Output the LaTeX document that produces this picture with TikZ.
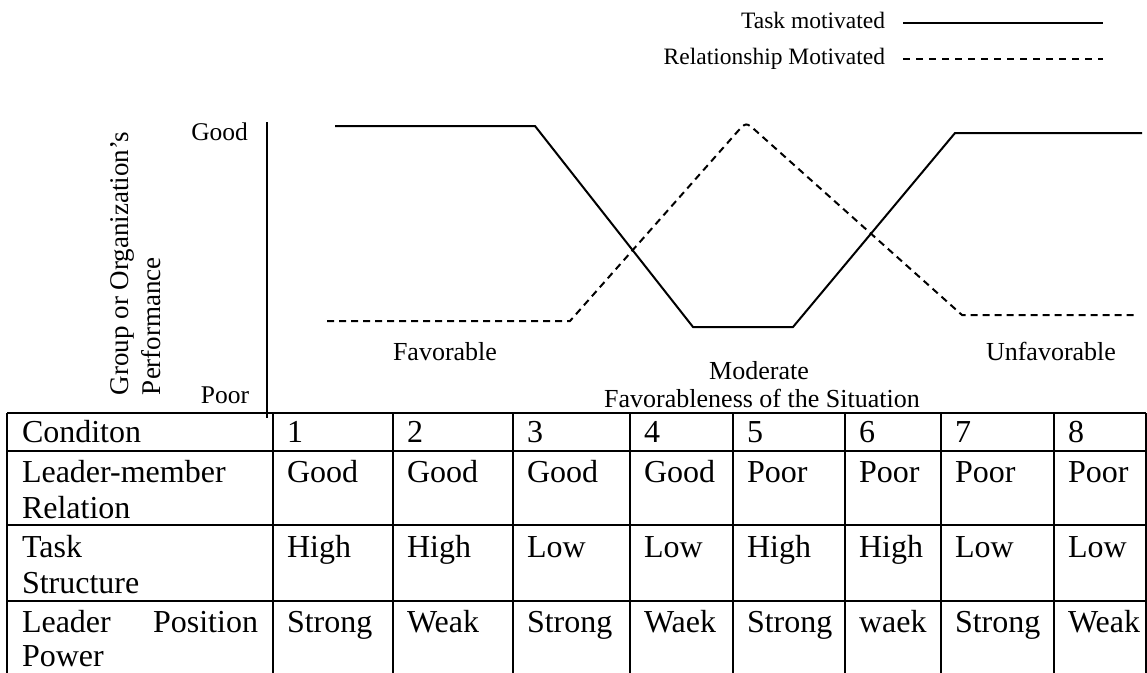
\documentclass[tikz,border=0pt]{standalone}
\usepackage{fontspec}
\setmainfont{Liberation Serif}
\begin{document}
\begin{tikzpicture}[x=1pt,y=-1pt,
  txt/.style={inner sep=0pt, outer sep=0pt},
  cell/.style={txt, anchor=base west, font=\fontsize{32}{36}\selectfont},
  glab/.style={txt, anchor=base, font=\fontsize{26}{30}\selectfont},
  leg/.style={txt, anchor=base east, font=\fontsize{23.5}{28}\selectfont},
  solidline/.style={line width=2pt},
  dashline/.style={line width=2pt, dash pattern=on 7pt off 5pt},
  legdash/.style={line width=2pt, dash pattern=on 7pt off 6pt},
  gridline/.style={line width=2.2pt}]
\useasboundingbox (0,0) rectangle (1147,672);

% legend
\node[leg] (lt) at (885,28) {Task motivated};
\node[leg] (lr) at (885,64) {Relationship Motivated};
\coordinate (lt1) at (903,23); \coordinate (lt2) at (1103,23);
\coordinate (lr1) at (903,59); \coordinate (lr2) at (1103,59);
\draw[solidline] (lt1) -- (lt2);
\draw[legdash] (lr1) -- (lr2);

% axis
\coordinate (ax1) at (267,122); \coordinate (ax2) at (267,418);
\draw[line width=2pt] (ax1) -- (ax2);
\node[txt, anchor=base east, font=\fontsize{25.5}{30}\selectfont] (good) at (248,140) {Good};
\node[txt, anchor=base east, font=\fontsize{25.5}{30}\selectfont] (poor) at (249,403) {Poor};
\node[txt, anchor=base west, rotate=90, font=\fontsize{27}{31}\selectfont] (yl1) at (128,395) {Group or Organization’s};
\node[txt, anchor=base west, rotate=90, font=\fontsize{27}{31}\selectfont] (yl2) at (160,395) {Performance};

% task motivated curve
\coordinate (s1) at (335,126); \coordinate (s2) at (535,126);
\coordinate (s3) at (693,327); \coordinate (s4) at (793,327);
\coordinate (s5) at (955,133); \coordinate (s6) at (1142,133);
\draw[solidline] (s1) -- (s2) -- (s3) -- (s4) -- (s5) -- (s6);

% relationship motivated curve
\coordinate (r1) at (327,321); \coordinate (r2) at (570,321);
\coordinate (r3a) at (736.7,132.5); \coordinate (r3) at (746,122); \coordinate (r3b) at (756.4,131.3);
\coordinate (r4) at (962,315); \coordinate (r5) at (1137,315);
\draw[dashline] (r1) -- (r2) -- (r3a) .. controls (r3) .. (r3b) -- (r4) -- (r5);

% graph labels
\node[glab] (fav) at (445,360) {Favorable};
\node[glab] (mod) at (759,379) {Moderate};
\node[glab] (fos) at (762,407) {Favorableness of the Situation};
\node[glab] (unf) at (1051,360) {Unfavorable};

% table grid
\foreach \x in {7,273,393,513,630,733,845,941,1054,1146}
  \draw[gridline] (\x,413) -- (\x,673);
\foreach \y in {413,451,525,601}
  \draw[gridline] (7,\y) -- (1146,\y);

% first column
\node[cell] (h1) at (22,442) {Conditon};
\node[cell] (h2a) at (22,482) {Leader-member};
\node[cell] (h2b) at (22,518) {Relation};
\node[cell] (h3a) at (22,557) {Task};
\node[cell] (h3b) at (22,593) {Structure};
\node[cell] (h4a) at (22,632) {\makebox[236pt][s]{Leader Position}};
\node[cell] (h4b) at (22,666) {Power};

% data columns
\foreach \x/\a/\b/\c/\d [count=\i] in {
  273/1/Good/High/Strong,
  393/2/Good/High/Weak,
  513/3/Good/Low/Strong,
  630/4/Good/Low/Waek,
  733/5/Poor/High/Strong,
  845/6/Poor/High/waek,
  941/7/Poor/Low/Strong,
  1054/8/Poor/Low/Weak}{
  \node[cell] (ca\i) at (\x+14,442) {\a};
  \node[cell] (cb\i) at (\x+14,482) {\b};
  \node[cell] (cc\i) at (\x+14,557) {\c};
  \node[cell] (cd\i) at (\x+14,632) {\d};
}
\end{tikzpicture}
\end{document}
